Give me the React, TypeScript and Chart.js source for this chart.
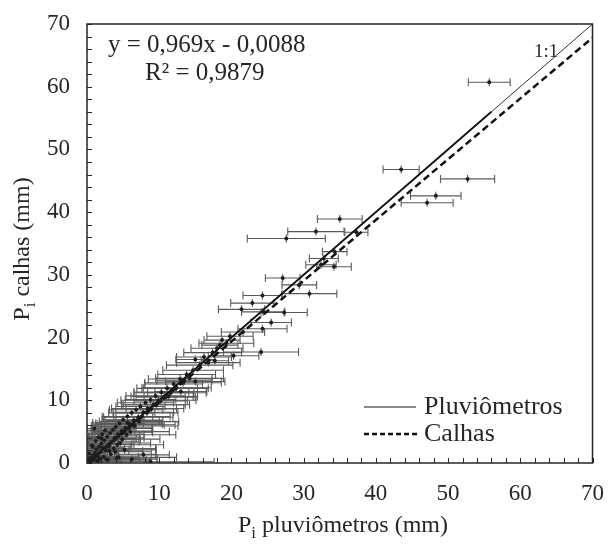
import React, { useEffect, useRef } from "react";
import { Chart, registerables } from "chart.js";

Chart.register(...registerables);

// Event rainfall: rain gauges (x) vs. gutters (y), with horizontal error of the gauges
const pluvX = [
  0.2, 0.4, 0.6, 0.8, 1.0, 1.1, 1.3, 1.5, 1.7, 1.9, 2.0, 2.2, 2.4, 2.6, 2.8, 3.0, 3.2, 3.4, 3.6, 3.8,
  4.0, 4.3, 4.5, 4.8, 5.0, 5.3, 5.6, 5.9, 6.2, 6.5, 6.8, 7.1, 7.4, 7.8, 8.1, 8.4, 8.8, 9.2, 9.5, 9.9,
  10.3, 10.7, 11.1, 11.5, 12.0, 12.4, 12.9, 13.3, 13.8, 14.2, 14.7, 15.0, 15.0, 15.6, 16.2, 16.8, 17.7, 17.4,
  18.0, 18.4, 18.7, 19.3, 20.3, 19.8, 5.6, 6.5, 7.8, 6.2, 8.8, 3.0, 4.6, 11.3, 13.0,
  0.5, 0.9, 1.4, 1.8, 2.3, 2.7, 3.3, 3.9, 4.4, 5.2, 0.3, 0.7, 1.2, 1.6, 2.1, 2.5, 3.1, 3.7, 4.2, 4.9,
  5.5, 6.0, 6.6, 7.2, 1.0,
  0.6, 1.2, 1.9, 2.5, 3.1, 3.8, 4.4, 5.1, 5.7, 6.3, 7.0, 7.6, 8.3, 8.9, 9.6, 10.2, 10.9, 11.6, 12.3, 13.5,
  1.5, 2.9, 4.1, 0.8, 2.0,
  21.4, 21.6, 22.9, 24.1, 24.3, 24.3, 24.4, 25.5, 27.1, 27.3, 29.4, 30.8,
  27.6, 31.7, 32.4, 32.8, 34.2, 34.3, 35.0, 37.3,
  43.5, 47.1, 48.3, 52.7, 55.7,
];
const calhasY = [
  0.3, 0.8, 0.4, 1.2, 0.9, 1.6, 2.2, 1.1, 2.6, 1.8, 3.1, 2.4, 3.6, 2.0, 4.2, 3.0, 4.8, 3.4, 5.3, 4.0,
  5.8, 4.6, 6.3, 5.1, 6.9, 5.6, 7.4, 6.2, 8.0, 6.8, 8.5, 7.3, 9.0, 8.1, 9.6, 8.7, 10.1, 9.3, 10.7, 10.0,
  11.3, 10.6, 11.9, 11.2, 12.6, 12.0, 13.4, 12.8, 14.1, 13.5, 14.8, 16.5, 13.0, 15.6, 16.9, 16.0, 16.3, 17.6,
  18.3, 18.8, 19.6, 19.1, 17.1, 20.2, 6.4, 6.1, 1.3, 0.6, 0.2, 2.6, 3.2, 10.6, 11.4,
  0.2, 0.5, 0.4, 0.7, 1.0, 0.6, 1.4, 1.8, 0.9, 2.1, 1.5, 2.8, 3.5, 4.1, 4.6, 5.2, 1.9, 2.3, 2.9, 3.8,
  4.5, 5.0, 5.9, 6.6, 5.5,
  0.5, 1.1, 1.8, 2.4, 3.0, 3.7, 4.3, 4.9, 5.5, 6.1, 6.8, 7.4, 8.0, 8.6, 9.3, 9.9, 10.5, 11.2, 11.9, 13.1,
  0.3, 0.5, 0.8, 2.6, 3.9,
  24.5, 20.9, 25.5, 17.7, 26.7, 21.4, 24.1, 22.4, 29.5, 24.0, 28.4, 27.0,
  35.8, 36.9, 31.6, 32.6, 31.3, 33.7, 38.9, 36.8,
  46.8, 41.5, 42.6, 45.3, 60.7,
];
const pluvErr = [
  0.5, 0.9, 1.2, 1.5, 1.8, 1.4, 2.0, 2.3, 1.6, 2.5, 2.2, 3.0, 2.0, 3.2, 2.6, 3.5, 2.4, 3.8, 3.0, 4.1,
  2.8, 3.6, 3.3, 4.2, 2.9, 3.8, 3.5, 4.5, 3.2, 4.0, 3.7, 4.8, 3.4, 4.2, 3.9, 5.0, 3.5, 4.4, 4.1, 5.2,
  3.8, 4.6, 4.2, 5.0, 4.0, 4.8, 4.4, 5.3, 4.0, 4.7, 4.2, 2.7, 4.1, 4.6, 3.8, 4.4, 1.9, 4.0,
  3.6, 2.5, 2.5, 3.8, 3.5, 3.2, 4.8, 5.7, 3.6, 2.0, 8.8, 3.0, 4.2, 3.4, 3.6,
  2.5, 4.0, 3.2, 5.5, 4.8, 7.0, 6.2, 5.0, 8.0, 4.4, 1.2, 2.0, 1.5, 2.6, 1.8, 3.0, 4.6, 5.8, 6.4, 5.2,
  6.8, 5.4, 6.0, 5.5, 1.0,
  1.0, 1.6, 2.1, 2.7, 3.1, 3.6, 2.9, 4.0, 3.3, 4.4, 3.0, 3.9, 4.3, 3.5, 4.6, 3.7, 4.1, 3.2, 4.5, 3.8,
  7.2, 6.0, 5.6, 3.4, 4.8,
  3.2, 3.0, 3.0, 5.2, 2.7, 3.4, 3.0, 2.8, 2.4, 3.2, 2.4, 3.8,
  5.4, 3.9, 2.1, 2.0, 2.4, 1.7, 3.1, 1.6,
  2.5, 3.6, 3.5, 3.75, 2.9,
];

// Fitted relation for the gutters
const slope = 0.969;
const intercept = -0.0088;
const axisMin = 0;
const axisMax = 70;
const gaugeLineEnd = 56;

const serif = "'Liberation Serif', 'Times New Roman', serif";
const ink = "#262626";

const errorBars = {
  id: "errorBars",
  beforeDatasetsDraw(chart: any) {
    const { ctx, scales } = chart;
    const xs = scales.x;
    const ys = scales.y;
    ctx.save();
    ctx.beginPath();
    ctx.rect(chart.chartArea.left, chart.chartArea.top, chart.chartArea.width, chart.chartArea.height);
    ctx.clip();
    ctx.strokeStyle = "#5a5a5a";
    ctx.lineWidth = 1.1;
    for (let i = 0; i < pluvX.length; i++) {
      const py = ys.getPixelForValue(calhasY[i]);
      const x1 = xs.getPixelForValue(pluvX[i] - pluvErr[i]);
      const x2 = xs.getPixelForValue(pluvX[i] + pluvErr[i]);
      const xc = xs.getPixelForValue(pluvX[i]);
      ctx.beginPath();
      ctx.moveTo(x1, py);
      ctx.lineTo(x2, py);
      ctx.moveTo(x1, py - 4);
      ctx.lineTo(x1, py + 4);
      ctx.moveTo(x2, py - 4);
      ctx.lineTo(x2, py + 4);
      ctx.moveTo(xc, py - 4);
      ctx.lineTo(xc, py + 4);
      ctx.stroke();
    }
    ctx.restore();
  },
};

const decorations = {
  id: "decorations",
  afterDraw(chart: any) {
    const { ctx, chartArea, scales } = chart;
    const { left, right, top, bottom } = chartArea;
    ctx.save();
    // inward tick marks
    ctx.strokeStyle = ink;
    ctx.lineWidth = 1;
    for (let v = axisMin; v <= axisMax; v += 2) {
      const px = Math.round(scales.x.getPixelForValue(v)) + 0.5;
      ctx.beginPath();
      ctx.moveTo(px, bottom);
      ctx.lineTo(px, bottom - 5);
      ctx.stroke();
      const py = Math.round(scales.y.getPixelForValue(v)) + 0.5;
      ctx.beginPath();
      ctx.moveTo(left, py);
      ctx.lineTo(left + 5, py);
      ctx.stroke();
    }
    // frame
    ctx.lineWidth = 1.5;
    ctx.strokeRect(left, top, right - left, bottom - top);

    ctx.fillStyle = ink;
    ctx.textBaseline = "middle";
    ctx.textAlign = "left";
    ctx.font = `25px ${serif}`;
    ctx.fillText("y = 0,969x - 0,0088", left + 21, top + 21);
    ctx.fillText("R² = 0,9879", left + 58, top + 49);
    ctx.font = `19px ${serif}`;
    ctx.fillText("1:1", left + 447, top + 28);

    // legend
    const lx = 364;
    const ly1 = 407;
    const ly2 = 434;
    ctx.strokeStyle = "#111";
    ctx.lineWidth = 1.2;
    ctx.beginPath();
    ctx.moveTo(lx, ly1);
    ctx.lineTo(lx + 52, ly1);
    ctx.stroke();
    ctx.lineWidth = 2.4;
    ctx.setLineDash([5, 3]);
    ctx.beginPath();
    ctx.moveTo(lx, ly2);
    ctx.lineTo(lx + 56, ly2);
    ctx.stroke();
    ctx.setLineDash([]);
    ctx.font = `26px ${serif}`;
    ctx.fillText("Pluviômetros", lx + 60, ly1);
    ctx.fillText("Calhas", lx + 60, ly2);

    // axis titles with subscript i
    const drawTitle = (rest: string, size: number) => {
      const sub = Math.round(size * 0.7);
      ctx.font = `${size}px ${serif}`;
      const wP = ctx.measureText("P").width;
      ctx.font = `${sub}px ${serif}`;
      const wi = ctx.measureText("i").width;
      ctx.font = `${size}px ${serif}`;
      const wr = ctx.measureText(rest).width;
      const total = wP + wi + wr;
      const x0 = -total / 2;
      ctx.textAlign = "left";
      ctx.fillText("P", x0, 0);
      ctx.font = `${sub}px ${serif}`;
      ctx.fillText("i", x0 + wP, size * 0.32);
      ctx.font = `${size}px ${serif}`;
      ctx.fillText(rest, x0 + wP + wi, 0);
    };
    ctx.save();
    ctx.translate(343, 526);
    drawTitle(" pluviômetros (mm)", 24);
    ctx.restore();
    ctx.save();
    ctx.translate(23, 249);
    ctx.rotate(-Math.PI / 2);
    drawTitle(" calhas (mm)", 24);
    ctx.restore();
    ctx.restore();
  },
};

export default function App() {
  const canvasRef = useRef<HTMLCanvasElement | null>(null);

  useEffect(() => {
    if (!canvasRef.current) return;
    const points = pluvX.map((x, i) => ({ x, y: calhasY[i] }));
    const chart = new Chart(canvasRef.current, {
      type: "scatter",
      data: {
        datasets: [
          {
            label: "1:1",
            type: "line",
            data: [
              { x: axisMin, y: axisMin },
              { x: axisMax, y: axisMax },
            ],
            borderColor: "#333",
            borderWidth: 1,
            pointRadius: 0,
            order: 3,
          },
          {
            label: "Pluviômetros",
            type: "line",
            data: [
              { x: axisMin, y: axisMin },
              { x: gaugeLineEnd, y: gaugeLineEnd },
            ],
            borderColor: "#111",
            borderWidth: 1.8,
            pointRadius: 0,
            order: 2,
          },
          {
            label: "Calhas",
            type: "line",
            data: [
              { x: axisMin, y: slope * axisMin + intercept },
              { x: axisMax, y: slope * axisMax + intercept },
            ],
            borderColor: "#111",
            borderWidth: 2.5,
            borderDash: [7, 4],
            pointRadius: 0,
            order: 1,
          },
          {
            label: "Eventos",
            data: points,
            pointRadius: 2,
            pointBackgroundColor: "#1e1e1e",
            pointBorderColor: "#1e1e1e",
            borderWidth: 0,
            order: 0,
          },
        ],
      },
      options: {
        responsive: false,
        animation: false,
        layout: { padding: { left: 0, right: 15, top: 24, bottom: 0 } },
        plugins: {
          legend: { display: false },
          tooltip: { enabled: false },
        },
        scales: {
          x: {
            type: "linear",
            min: axisMin,
            max: axisMax,
            grid: { display: false },
            border: { display: false },
            ticks: {
              stepSize: 10,
              padding: 9,
              color: ink,
              font: { family: serif, size: 23 },
            },
            afterFit(scale: any) {
              scale.height = 81;
            },
          },
          y: {
            type: "linear",
            min: axisMin,
            max: axisMax,
            grid: { display: false },
            border: { display: false },
            ticks: {
              stepSize: 10,
              padding: 9,
              color: ink,
              font: { family: serif, size: 23 },
            },
            afterFit(scale: any) {
              scale.width = 87;
            },
          },
        },
      },
      plugins: [errorBars, decorations],
    });
    return () => chart.destroy();
  }, []);

  return (
    <div style={{ position: "fixed", left: 0, top: 0, width: 613, height: 544, background: "#fff" }}>
      <canvas ref={canvasRef} width={613} height={544} style={{ display: "block" }} />
    </div>
  );
}
